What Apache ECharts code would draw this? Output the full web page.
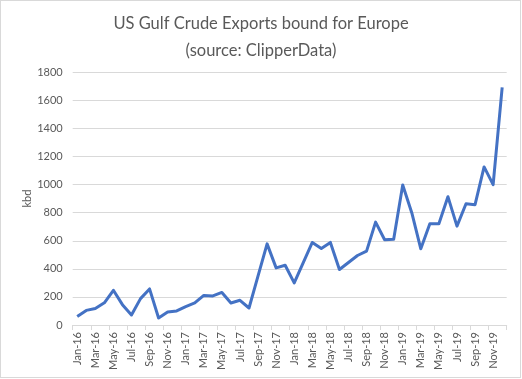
<!DOCTYPE html>
<html>
<head>
<meta charset="utf-8">
<script src="https://cdn.jsdelivr.net/npm/echarts@6/dist/echarts.min.js"></script>
<style>
html,body{margin:0;padding:0;background:#fff;}
#frame{position:absolute;left:0;top:0;width:519px;height:376px;border:1px solid #d9d9d9;}
#chart{position:absolute;left:0;top:0;width:522px;height:379px;}
</style>
</head>
<body>
<div id="frame"></div>
<div id="chart"></div>
<script>
const months = [
  'Jan-16','Feb-16','Mar-16','Apr-16','May-16','Jun-16','Jul-16','Aug-16','Sep-16','Oct-16','Nov-16','Dec-16',
  'Jan-17','Feb-17','Mar-17','Apr-17','May-17','Jun-17','Jul-17','Aug-17','Sep-17','Oct-17','Nov-17','Dec-17',
  'Jan-18','Feb-18','Mar-18','Apr-18','May-18','Jun-18','Jul-18','Aug-18','Sep-18','Oct-18','Nov-18','Dec-18',
  'Jan-19','Feb-19','Mar-19','Apr-19','May-19','Jun-19','Jul-19','Aug-19','Sep-19','Oct-19','Nov-19','Dec-19'
];
const exportsKbd = [
  60, 104, 118, 158, 247, 145, 71, 188, 257, 50, 93, 100,
  131, 157, 211, 207, 232, 157, 176, 121, 350, 578, 407, 426,
  300, 445, 588, 545, 588, 395, 445, 495, 526, 733, 607, 611,
  997, 800, 543, 721, 721, 914, 704, 864, 857, 1126, 1000, 1693
];
const titleLines = ['US Gulf Crude Exports bound for Europe', '(source: ClipperData)'];
const yAxisName = 'kbd';

const FONT = 'Lato, "Open Sans", sans-serif';
const chart = echarts.init(document.getElementById('chart'), null, {renderer: 'canvas'});
chart.setOption({
  animation: false,
  backgroundColor: 'transparent',
  title: {
    text: titleLines.join('\n'),
    left: 'center',
    top: 5,
    textStyle: {fontFamily: FONT, fontSize: 16.5, fontWeight: 'normal', color: '#595959', lineHeight: 27}
  },
  grid: {left: 72.7, right: 15.3, top: 72.3, bottom: 54, containLabel: false},
  xAxis: {
    type: 'category',
    data: months,
    boundaryGap: true,
    axisLine: {show: true, lineStyle: {color: '#d9d9d9', width: 1}},
    axisTick: {show: true, interval: 1, length: 5, lineStyle: {color: '#d9d9d9'}},
    axisLabel: {interval: 1, rotate: 90, fontFamily: FONT, fontSize: 11, color: '#595959', margin: 7}
  },
  yAxis: {
    type: 'value',
    min: 0, max: 1800, interval: 200,
    name: yAxisName,
    nameLocation: 'middle',
    nameGap: 40,
    nameMoveOverlap: false,
    nameTextStyle: {fontFamily: FONT, fontSize: 11, color: '#595959'},
    axisLine: {show: false},
    axisTick: {show: false},
    axisLabel: {fontFamily: FONT, fontSize: 11, color: '#595959', margin: 10, formatter: v => String(v)},
    splitLine: {lineStyle: {color: '#d9d9d9', width: 1}}
  },
  series: [{
    type: 'line',
    data: exportsKbd,
    showSymbol: false,
    symbol: 'none',
    lineStyle: {color: '#4472C4', width: 3, join: 'round'},
    itemStyle: {color: '#4472C4'}
  }]
});
</script>
</body>
</html>
